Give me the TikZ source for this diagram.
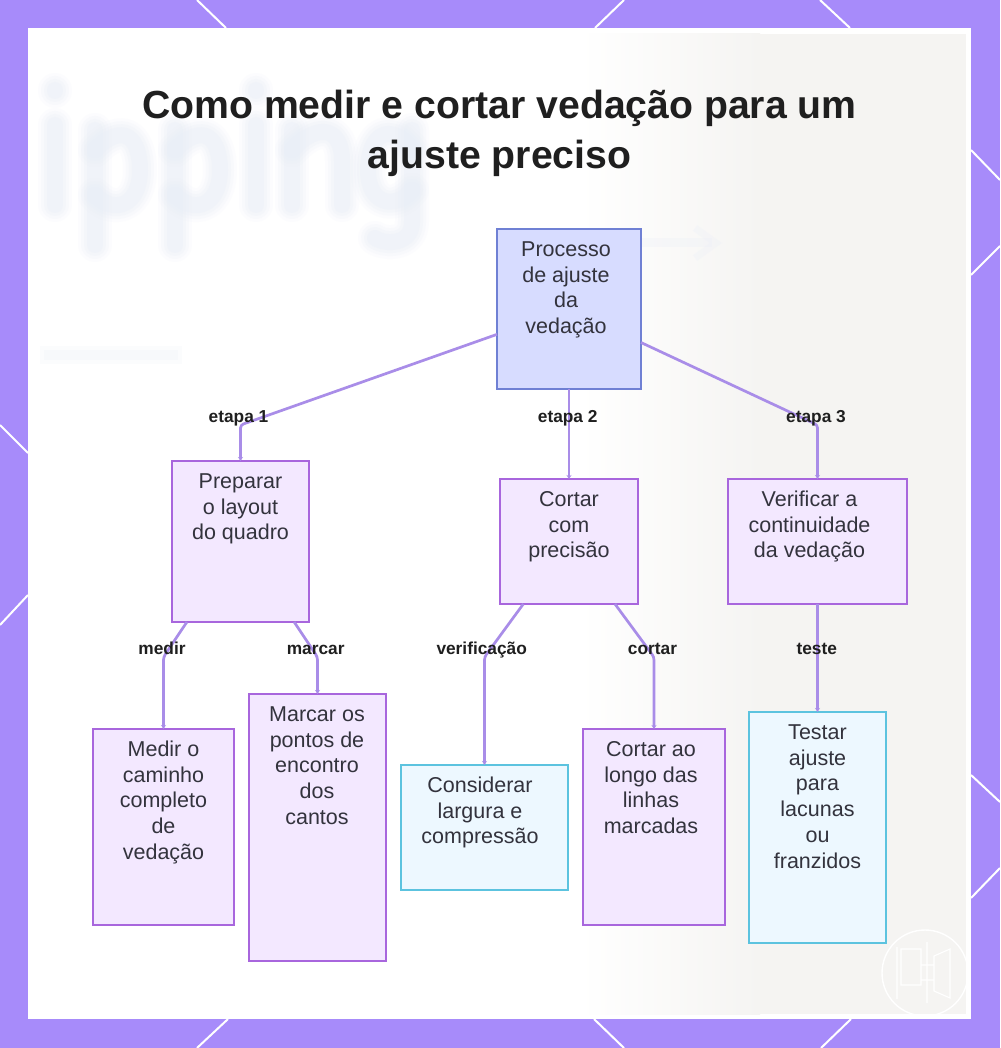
\documentclass[tikz,border=0pt]{standalone}
\usepackage{fontspec}
\setmainfont{Liberation Sans}
\usetikzlibrary{arrows.meta}
\definecolor{framec}{HTML}{A78BFA}
\definecolor{linkc}{HTML}{A98DE8}
\definecolor{inkc}{HTML}{33333D}
\definecolor{titlec}{HTML}{1F1F1F}
\definecolor{ghostc}{HTML}{E9EEF7}
\definecolor{warmc}{HTML}{F5F4F2}
\definecolor{HTMLroot}{HTML}{6F80D4}
\definecolor{HTMLrootf}{HTML}{D7DCFF}
\definecolor{HTMLpur}{HTML}{A866DD}
\definecolor{HTMLpurf}{HTML}{F3E8FF}
\definecolor{HTMLcy}{HTML}{5CC3DF}
\definecolor{HTMLcyf}{HTML}{EDF8FF}
\newcommand{\flowbox}[8]{%
  \node[#1] (#2) at (#3,#4) {\parbox[c][#6pt][t]{#5pt}{\fontsize{21.5}{25.7}\selectfont\color{inkc}\centering\rightskip=#7pt plus 1fil\rule{0pt}{27.5pt}#8\par}};}
\newcommand{\ghost}[1]{%
  \draw[ghostc,opacity=.12,line width=34pt,line cap=round,line join=round] #1;
  \draw[ghostc,opacity=.18,line width=28pt,line cap=round,line join=round] #1;
  \draw[ghostc,opacity=.25,line width=22pt,line cap=round,line join=round] #1;
  \draw[ghostc,opacity=.3,line width=16pt,line cap=round,line join=round] #1;}
\tikzset{
  x=1pt,y=-1pt,
  basebox/.style={draw,line width=2.2pt,inner sep=0pt,outer sep=0pt},
  rootbox/.style={basebox,draw=HTMLroot,fill=HTMLrootf},
  purplebox/.style={basebox,draw=HTMLpur,fill=HTMLpurf},
  cyanbox/.style={basebox,draw=HTMLcy,fill=HTMLcyf},
  link/.style={draw=linkc,line width=2.7pt,rounded corners=3pt,-{Stealth[length=4pt,width=5pt]}},
  linklabel/.style={font=\bfseries\fontsize{17.3}{20}\selectfont,text=titlec,inner sep=0pt},
  frameline/.style={draw=white,line width=2pt},
}
\begin{document}
\begin{tikzpicture}
\useasboundingbox (0,0) rectangle (1000,1048);
% frame
\fill[framec] (0,0) rectangle (1000,1048);
\foreach \a/\b/\c/\d in {197/0/226/28,624/0/595/28,820/0/850/28,971/150/1000/180,1000/246/971/275,971/775/1000/802,1000/868/971/898,851/1019/821/1048,228/1019/197/1048,594/1019/624/1048,0/425/28/453,28/595/0/625}
  \draw[frameline] (\a,\b) -- (\c,\d);
\fill[white] (28,28) rectangle (971,1019);
% blurred backdrop
\shade[left color=white,right color=warmc] (580,34) rectangle (760,1014);
\fill[warmc] (760,34) rectangle (966,1014);
\ghost{(55,125) -- (55,205)}
\ghost{(55,90) -- (55,91)}
\ghost{(95,130) -- (95,245)}
\ghost{(95,150) .. controls (125,120) and (140,140) .. (140,170) .. controls (140,205) and (115,215) .. (95,195)}
\ghost{(175,130) -- (175,245)}
\ghost{(175,150) .. controls (205,120) and (220,140) .. (220,170) .. controls (220,205) and (195,215) .. (175,195)}
\ghost{(256,125) -- (256,205)}
\ghost{(256,90) -- (256,91)}
\ghost{(292,130) -- (292,205)}
\ghost{(292,150) .. controls (320,120) and (342,130) .. (342,160) -- (342,205)}
\ghost{(412,130) -- (412,222) .. controls (412,245) and (385,245) .. (375,238)}
\ghost{(412,150) .. controls (390,120) and (368,135) .. (368,170) .. controls (368,205) and (395,210) .. (412,190)}
\draw[ghostc,opacity=.15,line width=18pt] (40,355) -- (182,355);
\draw[ghostc,opacity=.2,line width=10pt] (44,355) -- (178,355);
\draw[ghostc,opacity=.25,line width=9pt] (640,243) -- (712,243);
\draw[ghostc,opacity=.25,line width=7pt] (695,228) -- (716,243) -- (695,258);
% watermark
\draw[white,line width=1.4pt] (925,973) circle (43);
\draw[white,line width=1.1pt] (897,947) -- (897,999) (901,949) rectangle (921,985) (927,942) -- (927,1003)
  (934,956) -- (950,949) -- (950,998) -- (934,991) -- cycle (921,965) -- (934,965) (921,980) -- (934,980);
% title
\node[font=\bfseries\fontsize{39.2}{50}\selectfont,text=titlec,align=center,inner sep=0pt] (title) at (499.5,133) {Como medir e cortar vedação para um\\ajuste preciso};
% boxes
\flowbox{rootbox}{root}{569}{309}{144}{160}{6}{Processo\\de ajuste\\da\\vedação}
\flowbox{purplebox}{prep}{240.5}{541.5}{137}{161}{0}{Preparar\\o layout\\do quadro}
\flowbox{purplebox}{cort}{569}{541.5}{138}{125}{0}{Cortar\\com\\precisão}
\flowbox{purplebox}{veri}{817.5}{541.5}{179}{125}{16}{Verificar a\\continuidade\\da vedação}
\flowbox{purplebox}{medi}{163.5}{827}{141}{196}{0}{Medir o\\caminho\\completo\\de\\vedação}
\flowbox{purplebox}{marc}{317.5}{827.5}{137}{267}{1}{Marcar os\\pontos de\\encontro\\dos\\cantos}
\flowbox{cyanbox}{cons}{484.5}{827.5}{167}{125}{9}{Considerar\\largura e\\compressão}
\flowbox{purplebox}{cora}{654}{827}{142}{196}{6}{Cortar ao\\longo das\\linhas\\marcadas}
\flowbox{cyanbox}{test}{817.5}{827.5}{137}{231}{0}{Testar\\ajuste\\para\\lacunas\\ou\\franzidos}
% bends
\coordinate (k1) at (240.5,425);
\coordinate (k3) at (817.5,425);
\coordinate (k4) at (163.5,657);
\coordinate (k5) at (317.5,657);
\coordinate (k6) at (484.5,657);
\coordinate (k7) at (654,657);
% connectors
\draw[link] (root) -- (k1) -- (prep);
\draw[link] (root) -- (cort);
\draw[link] (root) -- (k3) -- (veri);
\draw[link] (prep) -- (k4) -- (medi);
\draw[link] (prep) -- (k5) -- (marc);
\draw[link] (cort) -- (k6) -- (cons);
\draw[link] (cort) -- (k7) -- (cora);
\draw[link] (veri) -- (test);
% labels
\node[linklabel,anchor=base] (l1) at (238.5,422) {etapa 1};
\node[linklabel,anchor=base] (l2) at (567.7,422) {etapa 2};
\node[linklabel,anchor=base] (l3) at (816,422) {etapa 3};
\node[linklabel,anchor=base] (l4) at (162,654.5) {medir};
\node[linklabel,anchor=base] (l5) at (315.7,654.5) {marcar};
\node[linklabel,anchor=base] (l6) at (481.7,654.5) {verificação};
\node[linklabel,anchor=base] (l7) at (652.5,654.5) {cortar};
\node[linklabel,anchor=base] (l8) at (816.7,654.5) {teste};
\end{tikzpicture}
\end{document}
